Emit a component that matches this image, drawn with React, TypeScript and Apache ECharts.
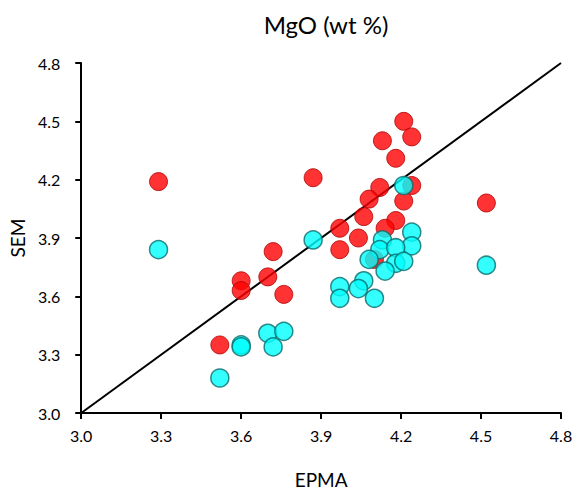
import React, { useEffect, useRef } from "react";
import * as echarts from "echarts";

const redEPMA = [3.29, 3.87, 3.72, 3.60, 3.60, 3.70, 3.76, 3.52, 4.21, 4.24, 4.13, 4.18, 4.24, 4.12, 4.08, 4.21, 4.52, 4.06, 3.97, 4.18, 4.14, 4.04, 3.97, 4.10];
const redSEM = [4.19, 4.21, 3.83, 3.68, 3.63, 3.70, 3.61, 3.35, 4.50, 4.42, 4.40, 4.31, 4.17, 4.16, 4.10, 4.09, 4.08, 4.01, 3.95, 3.99, 3.95, 3.90, 3.84, 3.79];
const cyanEPMA = [3.29, 3.87, 3.70, 3.76, 3.72, 3.60, 3.60, 3.52, 4.21, 4.24, 4.24, 4.13, 4.12, 4.18, 4.08, 4.18, 4.21, 4.14, 4.52, 4.06, 4.04, 3.97, 3.97, 4.10];
const cyanSEM = [3.84, 3.89, 3.41, 3.42, 3.34, 3.35, 3.34, 3.18, 4.17, 3.93, 3.86, 3.89, 3.84, 3.85, 3.79, 3.77, 3.78, 3.73, 3.76, 3.68, 3.64, 3.65, 3.59, 3.59];
const axisMin = 3.0;
const axisMax = 4.8;
const axisStep = 0.3;
const titleText = "MgO (wt %)";
const xName = "EPMA";
const yName = "SEM";

const FONT = "Lato, 'Open Sans', sans-serif";

export default function App() {
  const ref = useRef<HTMLDivElement>(null);
  useEffect(() => {
    document.body.style.margin = "0";
    const chart = echarts.init(ref.current!, null, { renderer: "svg" });
    const axisCommon = {
      type: "value" as const,
      min: axisMin,
      max: axisMax,
      interval: axisStep,
      splitLine: { show: false },
      axisLine: { show: true, lineStyle: { color: "#000", width: 2 } },
      axisTick: { show: true, length: 6, lineStyle: { color: "#000", width: 2 } },
      axisLabel: {
        color: "#000",
        fontSize: 16,
        fontFamily: FONT,
        formatter: (v: number) => v.toFixed(1),
      },
      nameLocation: "middle" as const,
      nameTextStyle: { color: "#000", fontSize: 19, fontFamily: FONT },
    };
    chart.setOption({
      animation: false,
      title: {
        text: titleText,
        left: 321,
        top: 7,
        textAlign: "center",
        textStyle: { color: "#000", fontSize: 24, fontWeight: "normal", fontFamily: FONT },
      },
      grid: { left: 81, right: 16, top: 63, bottom: 83 },
      xAxis: {
        ...axisCommon,
        name: xName,
        nameGap: 57,
        axisLabel: { ...axisCommon.axisLabel, margin: 14 },
      },
      yAxis: {
        ...axisCommon,
        name: yName,
        nameGap: 47,
        axisLabel: { ...axisCommon.axisLabel, margin: 21 },
      },
      series: [
        {
          type: "line",
          data: [[axisMin, axisMin], [axisMax, axisMax]],
          symbol: "none",
          lineStyle: { color: "#000", width: 2 },
          z: 1,
        },
        {
          type: "scatter",
          data: redEPMA.map((x, i) => [x, redSEM[i]]),
          symbolSize: 18,
          itemStyle: { color: "#FF0000", borderColor: "#B00000", borderWidth: 1 },
          z: 2,
        },
        {
          type: "scatter",
          data: cyanEPMA.map((x, i) => [x, cyanSEM[i]]),
          symbolSize: 18,
          itemStyle: { color: "#00FFFF", borderColor: "#0A6B6B", borderWidth: 1.5 },
          z: 3,
        },
      ],
    });
    return () => chart.dispose();
  }, []);
  return <div ref={ref} style={{ width: 577, height: 496 }} />;
}
